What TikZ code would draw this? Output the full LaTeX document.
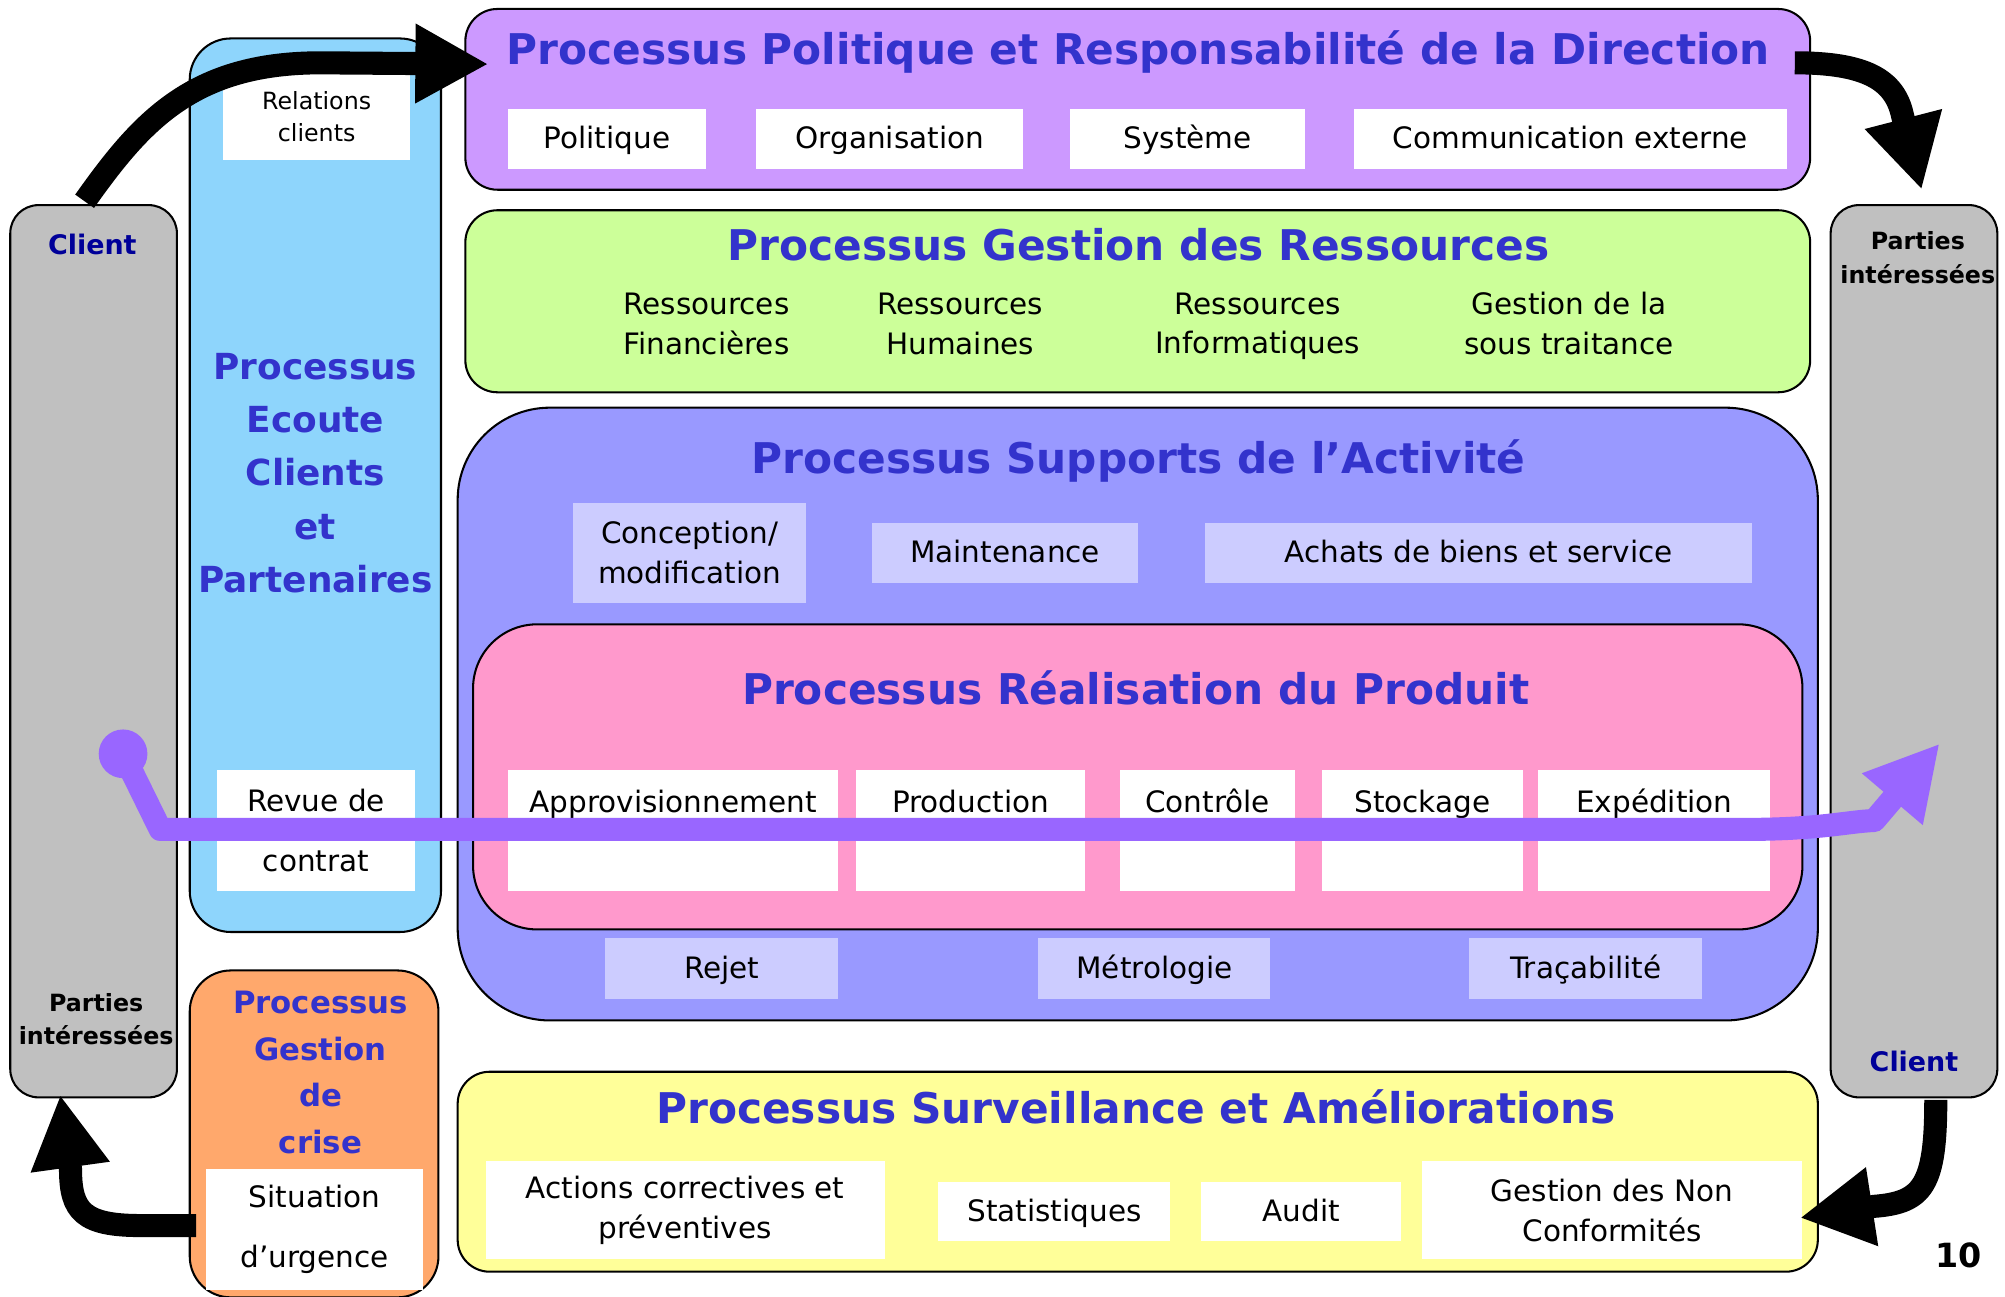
\documentclass[tikz,border=0pt]{standalone}
\usepackage{fontspec}
\setmainfont{DejaVu Sans}
\usetikzlibrary{arrows.meta}
\definecolor{titleblue}{RGB}{51,51,204}
\definecolor{navy}{RGB}{0,0,153}
\definecolor{cpurple}{RGB}{204,153,255}
\definecolor{cgreen}{RGB}{204,255,153}
\definecolor{csupp}{RGB}{153,153,255}
\definecolor{cpink}{RGB}{255,153,204}
\definecolor{cyellow}{RGB}{255,255,153}
\definecolor{clav}{RGB}{204,204,255}
\definecolor{cgray}{RGB}{192,192,192}
\definecolor{cblue}{RGB}{142,213,252}
\definecolor{corange}{RGB}{255,168,108}
\definecolor{carrow}{RGB}{153,102,255}
\begin{document}
\begin{tikzpicture}[x=1pt,y=-1pt,
  panel/.style={draw=black,line width=1.6pt,inner sep=0pt},
  wbox/.style={fill=white,inner sep=0pt,align=center,font=\fontsize{23}{31}\selectfont},
  lbox/.style={fill=clav,inner sep=0pt,align=center,font=\fontsize{23}{31}\selectfont},
  oneline/.style={text height=19pt,text depth=4pt},
  ptitle/.style={text=titleblue,font=\fontsize{33}{38}\selectfont\bfseries,inner sep=0pt,text height=25pt,text depth=8pt},
  txt/.style={font=\fontsize{23}{31}\selectfont,align=center,inner sep=0pt},
  clienttxt/.style={text=navy,font=\fontsize{21}{26}\selectfont\bfseries,inner sep=0pt},
  partiestxt/.style={font=\fontsize{18.5}{26}\selectfont\bfseries,align=center,inner sep=0pt},
  blk/.style={line width=18pt,black,-{Triangle[length=57pt,width=58pt]}},
  purp/.style={line width=18pt,carrow,line join=round,-{Triangle[length=57pt,width=58pt]}}]
\useasboundingbox (0,0) rectangle (1564,1011);

% side panels
\node[panel,fill=cgray,rounded corners=22pt,minimum width=130pt,minimum height=696pt] (lgray) at (73,508) {};
\node[panel,fill=cgray,rounded corners=22pt,minimum width=130pt,minimum height=696pt] (rgray) at (1493,508) {};
\node[panel,fill=cblue,rounded corners=32pt,minimum width=196pt,minimum height=697pt] (ecoute) at (246,378.5) {};
\node[panel,fill=corange,rounded corners=32pt,minimum width=194pt,minimum height=255pt] (crise) at (245,884.5) {};

% main panels
\node[panel,fill=cpurple,rounded corners=25pt,minimum width=1049pt,minimum height=141pt] (pol) at (887.5,77.5) {};
\node[panel,fill=cgreen,rounded corners=25pt,minimum width=1049pt,minimum height=142pt] (res) at (887.5,235) {};
\node[panel,fill=csupp,rounded corners=72pt,minimum width=1061pt,minimum height=478pt] (sup) at (887.5,557) {};
\node[panel,fill=cpink,rounded corners=50pt,minimum width=1037pt,minimum height=238pt] (rea) at (887.5,606) {};
\node[panel,fill=cyellow,rounded corners=25pt,minimum width=1061pt,minimum height=156pt] (sur) at (887.5,914) {};

% titles
\node[ptitle] (polT) at (888,42) {Processus Politique et Responsabilité de la Direction};
\node[ptitle] (resT) at (888,195) {Processus Gestion des Ressources};
\node[ptitle] (supT) at (888,361) {Processus Supports de l’Activité};
\node[ptitle] (reaT) at (886,541) {Processus Réalisation du Produit};
\node[ptitle] (surT) at (886,868) {Processus Surveillance et Améliorations};
\node[text=titleblue,font=\fontsize{28}{41.5}\selectfont\bfseries,align=center,inner sep=0pt] (ecT) at (246,369) {Processus\\Ecoute\\Clients\\et\\Partenaires};
\node[text=titleblue,font=\fontsize{24}{36.3}\selectfont\bfseries,align=center,inner sep=0pt] (crT) at (250,836.5) {Processus\\Gestion\\de\\crise};

% side labels
\node[clienttxt] (cl1) at (72,191) {Client};
\node[clienttxt] (cl2) at (1493,828) {Client};
\node[partiestxt] (pi1) at (75,795) {Parties\\intéressées};
\node[partiestxt] (pi2) at (1496,201) {Parties\\intéressées};
\node[font=\fontsize{26}{30}\selectfont\bfseries,inner sep=0pt] (pnum) at (1528,979) {10};

% top row boxes
\node[wbox,oneline,minimum width=155pt,minimum height=47pt] (b1) at (473.5,108.5) {Politique};
\node[wbox,oneline,minimum width=208pt,minimum height=47pt] (b2) at (694,108.5) {Organisation};
\node[wbox,oneline,minimum width=183pt,minimum height=47pt] (b3) at (926.5,108.5) {Système};
\node[wbox,oneline,minimum width=338pt,minimum height=47pt] (b4) at (1225,108.5) {Communication externe};

% resources texts
\node[txt] (r1) at (551,252.5) {Ressources\\Financières};
\node[txt] (r2) at (749,252.5) {Ressources\\Humaines};
\node[txt] (r3) at (981,254.5) {Ressources\\Informatiques};
\node[txt] (r4) at (1224,252.5) {Gestion de la\\sous traitance};

% supports boxes
\node[lbox,minimum width=182pt,minimum height=78pt] (s1) at (538,431) {Conception/\\modification};
\node[lbox,oneline,minimum width=208pt,minimum height=47pt] (s2) at (784,431.5) {Maintenance};
\node[lbox,oneline,minimum width=427pt,minimum height=47pt] (s3) at (1153.5,431.5) {Achats de biens et service};
\node[lbox,oneline,minimum width=182pt,minimum height=47pt] (s4) at (563,755.5) {Rejet};
\node[lbox,oneline,minimum width=181pt,minimum height=47pt] (s5) at (900.5,755.5) {Métrologie};
\node[lbox,oneline,minimum width=182pt,minimum height=47pt] (s6) at (1237,755.5) {Traçabilité};

% realisation boxes
\node[wbox,minimum width=258pt,minimum height=94pt] (p1) at (525,648) {};
\node[wbox,minimum width=178pt,minimum height=94pt] (p2) at (757,648) {};
\node[wbox,minimum width=136pt,minimum height=94pt] (p3) at (942,648) {};
\node[wbox,minimum width=157pt,minimum height=94pt] (p4) at (1109.5,648) {};
\node[wbox,minimum width=181pt,minimum height=94pt] (p5) at (1290.5,648) {};
\node[txt,oneline] (p1t) at (525,626) {Approvisionnement};
\node[txt,oneline] (p2t) at (757,626) {Production};
\node[txt,oneline] (p3t) at (942,626) {Contrôle};
\node[txt,oneline] (p4t) at (1109.5,626) {Stockage};
\node[txt,oneline] (p5t) at (1290.5,626) {Expédition};

% surveillance boxes
\node[wbox,minimum width=311pt,minimum height=76pt] (v1) at (534.5,944) {Actions correctives et\\préventives};
\node[wbox,oneline,minimum width=181pt,minimum height=46pt] (v2) at (822.5,945) {Statistiques};
\node[wbox,oneline,minimum width=156pt,minimum height=46pt] (v3) at (1015,945) {Audit};
\node[wbox,minimum width=297pt,minimum height=76pt] (v4) at (1257.5,944) {Gestion des Non\\Conformités};

% left column boxes
\node[wbox,font=\fontsize{18.5}{25}\selectfont,minimum width=146pt,minimum height=68pt] (relc) at (247,91) {Relations\\clients};
\node[wbox,font=\fontsize{23}{47}\selectfont,minimum width=155pt,minimum height=94pt] (revc) at (246.5,648) {Revue de\\contrat};
\node[wbox,font=\fontsize{23}{47}\selectfont,minimum width=169pt,minimum height=94pt] (situ) at (245.5,959) {Situation\\d’urgence};

% purple flow arrow
\coordinate (dot) at (96,588);
\coordinate (ptip) at (1513,580);
\fill[carrow] (dot) circle (19pt);
\draw[purp] (dot) -- (125,647) -- (1360,647) .. controls (1420,647) and (1440,641) .. (1462,640) -- (ptip);

% black arrows
\coordinate (a1s) at (66,157);
\coordinate (a1t) at (381,50);
\draw[blk] (a1s) .. controls (110,95) and (150,49) .. (250,49) -- (a1t);
\coordinate (a2s) at (1400,49);
\coordinate (a2t) at (1499,148);
\draw[blk] (a2s) .. controls (1455,49) and (1478,62) .. (1484,90) -- (a2t);
\coordinate (a3s) at (1510,858);
\coordinate (a3t) at (1404,950);
\draw[blk] (a3s) .. controls (1510,925) and (1500,938) .. (1462,941) -- (a3t);
\coordinate (a4s) at (153,956);
\coordinate (a4t) at (47,854);
\draw[blk] (a4s) -- (110,956) .. controls (65,956) and (55,945) .. (55,912) -- (a4t);
\end{tikzpicture}
\end{document}
